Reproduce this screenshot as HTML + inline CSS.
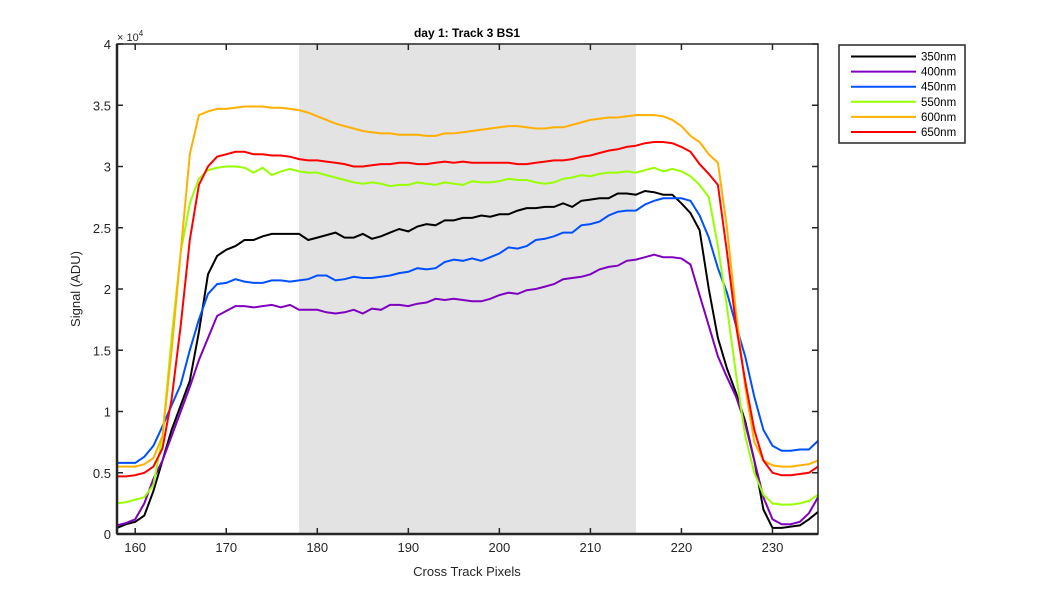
<!DOCTYPE html>
<html><head><meta charset="utf-8"><style>
body{margin:0;background:#fff;}
svg{display:block;font-family:"Liberation Sans",Arial,sans-serif;}
</style></head><body>
<svg id="chart" width="1050" height="600" viewBox="0 0 1050 600"></svg>
<script>
const xStart = 158;
const shadeRange = [178, 215];
const xTicks = [160,170,180,190,200,210,220,230];
const yTicks = [0,0.5,1,1.5,2,2.5,3,3.5,4];
const yTickLabels = ["0","0.5","1","1.5","2","2.5","3","3.5","4"];
const seriesNames = ["350nm","400nm","450nm","550nm","600nm","650nm"];
const seriesColors = ["#000000","#8000c0","#0050ff","#99ff00","#ffb000","#ff0000"];
const s350 = [0.05,0.08,0.1,0.15,0.35,0.6,0.85,1.05,1.25,1.65,2.12,2.27,2.32,2.35,2.4,2.4,2.43,2.45,2.45,2.45,2.45,2.4,2.42,2.44,2.46,2.42,2.42,2.45,2.41,2.43,2.46,2.49,2.47,2.51,2.53,2.52,2.56,2.56,2.58,2.58,2.6,2.59,2.61,2.61,2.64,2.66,2.66,2.67,2.67,2.7,2.67,2.72,2.73,2.74,2.74,2.78,2.78,2.77,2.8,2.79,2.77,2.77,2.7,2.62,2.48,2.0,1.6,1.35,1.15,0.92,0.6,0.2,0.05,0.05,0.06,0.07,0.12,0.18];
const s400 = [0.07,0.09,0.12,0.25,0.45,0.6,0.8,1.0,1.2,1.42,1.6,1.78,1.82,1.86,1.86,1.85,1.86,1.87,1.85,1.87,1.83,1.83,1.83,1.81,1.8,1.81,1.83,1.8,1.84,1.83,1.87,1.87,1.86,1.88,1.89,1.92,1.91,1.92,1.91,1.9,1.9,1.92,1.95,1.97,1.96,1.99,2.0,2.02,2.04,2.08,2.09,2.1,2.12,2.16,2.18,2.19,2.23,2.24,2.26,2.28,2.26,2.26,2.25,2.2,1.95,1.7,1.45,1.28,1.12,0.9,0.6,0.3,0.12,0.08,0.08,0.1,0.17,0.3];
const s450 = [0.58,0.58,0.58,0.63,0.72,0.88,1.05,1.22,1.5,1.75,1.96,2.04,2.05,2.08,2.06,2.05,2.05,2.07,2.07,2.06,2.07,2.08,2.11,2.11,2.07,2.08,2.1,2.09,2.09,2.1,2.11,2.13,2.14,2.17,2.16,2.17,2.22,2.24,2.23,2.25,2.23,2.26,2.29,2.34,2.33,2.35,2.4,2.41,2.43,2.46,2.46,2.52,2.53,2.55,2.6,2.63,2.64,2.64,2.69,2.72,2.74,2.74,2.74,2.72,2.6,2.42,2.17,1.97,1.7,1.45,1.12,0.85,0.72,0.68,0.68,0.69,0.69,0.76];
const s550 = [0.25,0.26,0.28,0.3,0.4,0.8,1.6,2.3,2.7,2.9,2.97,2.99,3.0,3.0,2.99,2.95,2.99,2.93,2.96,2.98,2.96,2.95,2.95,2.93,2.91,2.89,2.87,2.86,2.87,2.86,2.84,2.85,2.85,2.87,2.86,2.85,2.87,2.86,2.85,2.88,2.87,2.87,2.88,2.9,2.89,2.89,2.87,2.86,2.87,2.9,2.91,2.93,2.92,2.94,2.95,2.95,2.96,2.95,2.97,2.99,2.96,2.98,2.96,2.92,2.85,2.75,2.35,1.85,1.3,0.8,0.5,0.32,0.25,0.24,0.24,0.25,0.27,0.32];
const s600 = [0.55,0.55,0.55,0.57,0.62,0.8,1.5,2.3,3.1,3.42,3.45,3.47,3.47,3.48,3.49,3.49,3.49,3.48,3.48,3.47,3.46,3.44,3.41,3.38,3.35,3.33,3.31,3.29,3.28,3.27,3.27,3.26,3.26,3.26,3.25,3.25,3.27,3.27,3.28,3.29,3.3,3.31,3.32,3.33,3.33,3.32,3.31,3.31,3.32,3.32,3.34,3.36,3.38,3.39,3.4,3.4,3.41,3.42,3.42,3.42,3.41,3.38,3.33,3.25,3.2,3.1,3.03,2.5,1.8,1.2,0.75,0.6,0.56,0.55,0.55,0.56,0.57,0.6];
const s650 = [0.47,0.47,0.48,0.5,0.55,0.7,1.1,1.7,2.4,2.85,3.0,3.08,3.1,3.12,3.12,3.1,3.1,3.09,3.09,3.08,3.06,3.05,3.05,3.04,3.03,3.02,3.0,3.0,3.01,3.02,3.02,3.03,3.03,3.02,3.02,3.03,3.04,3.03,3.04,3.03,3.03,3.03,3.03,3.03,3.02,3.02,3.03,3.04,3.05,3.05,3.06,3.08,3.09,3.11,3.13,3.14,3.16,3.17,3.19,3.2,3.2,3.19,3.16,3.12,3.02,2.94,2.85,2.3,1.7,1.25,0.85,0.6,0.5,0.48,0.48,0.49,0.5,0.55];
const allSeries = [s350,s400,s450,s550,s600,s650];

const NS="http://www.w3.org/2000/svg";
const svg=document.getElementById('chart');
const L=117,R=818,T=44,B=534,XMIN=158,XMAX=235,YMAX=4;
function sx(v){return L+(v-XMIN)/(XMAX-XMIN)*(R-L);}
function sy(v){return B-v/YMAX*(B-T);}
function mk(tag,attrs,parent){const e=document.createElementNS(NS,tag);for(const k in attrs)e.setAttribute(k,attrs[k]);(parent||svg).appendChild(e);return e;}

const clip=mk('clipPath',{id:'pc'});mk('rect',{x:L,y:T,width:R-L,height:B-T},clip);
let e=mk('rect',{x:sx(shadeRange[0]),y:T,width:sx(shadeRange[1])-sx(shadeRange[0]),height:B-T,fill:'#e3e3e3'});



allSeries.forEach((arr,i)=>{
  const pts=arr.map((v,j)=>sx(xStart+j).toFixed(1)+','+sy(v).toFixed(1)).join(' ');
  const p=mk('polyline',{points:pts,fill:'none',stroke:seriesColors[i],'stroke-width':2,'clip-path':'url(#pc)'});
  
  
});

e=mk('rect',{x:L,y:T,width:R-L,height:B-T,fill:'none',stroke:'#262626','stroke-width':1.5});


e=mk('line',{x1:L,y1:T,x2:L,y2:B,stroke:'#262626','stroke-width':2.5});


e=mk('line',{x1:L,y1:B,x2:R,y2:B,stroke:'#262626','stroke-width':2.5});



xTicks.forEach(v=>{
  const x=sx(v);
  mk('line',{x1:x,y1:B,x2:x,y2:B-6,stroke:'#262626','stroke-width':1.5});
  mk('line',{x1:x,y1:T,x2:x,y2:T+6,stroke:'#262626','stroke-width':1.5});
  const t=mk('text',{x:x,y:B+18,'text-anchor':'middle','font-size':13,fill:'#262626'});
  t.textContent=v;
  
  
});
yTicks.forEach((v,i)=>{
  const y=sy(v);
  mk('line',{x1:L,y1:y,x2:L+6,y2:y,stroke:'#262626','stroke-width':1.5});
  mk('line',{x1:R,y1:y,x2:R-6,y2:y,stroke:'#262626','stroke-width':1.5});
  const t=mk('text',{x:L-6,y:y+5,'text-anchor':'end','font-size':13,fill:'#262626'});
  t.textContent=yTickLabels[i];
  
  
});
e=mk('text',{x:L,y:T-3,'font-size':11,fill:'#262626'});
e.innerHTML='× 10<tspan dy="-5" font-size="8">4</tspan>';


e=mk('text',{x:467,y:37,'text-anchor':'middle','font-size':12,'font-weight':'bold',fill:'#000'});
e.textContent='day 1: Track 3  BS1';e.setAttribute('xml:space','preserve');


e=mk('text',{x:467,y:576,'text-anchor':'middle','font-size':13,fill:'#262626'});
e.textContent='Cross Track Pixels';


e=mk('text',{x:80,y:289,'text-anchor':'middle','font-size':13,fill:'#262626',transform:'rotate(-90 80 289)'});
e.textContent='Signal (ADU)';



const lg=mk('g',{});


mk('rect',{x:839,y:45,width:126,height:98,fill:'#fff',stroke:'#262626','stroke-width':1.5},lg);
seriesNames.forEach((n,i)=>{
  const y=56.5+i*15.1;
  const g=mk('g',{},lg);
  
  
  mk('line',{x1:851,y1:y,x2:916,y2:y,stroke:seriesColors[i],'stroke-width':2},g);
  const t=mk('text',{x:921,y:y+4,'font-size':11.5,fill:'#000'},g);
  t.textContent=n;
});
</script>
</body></html>
